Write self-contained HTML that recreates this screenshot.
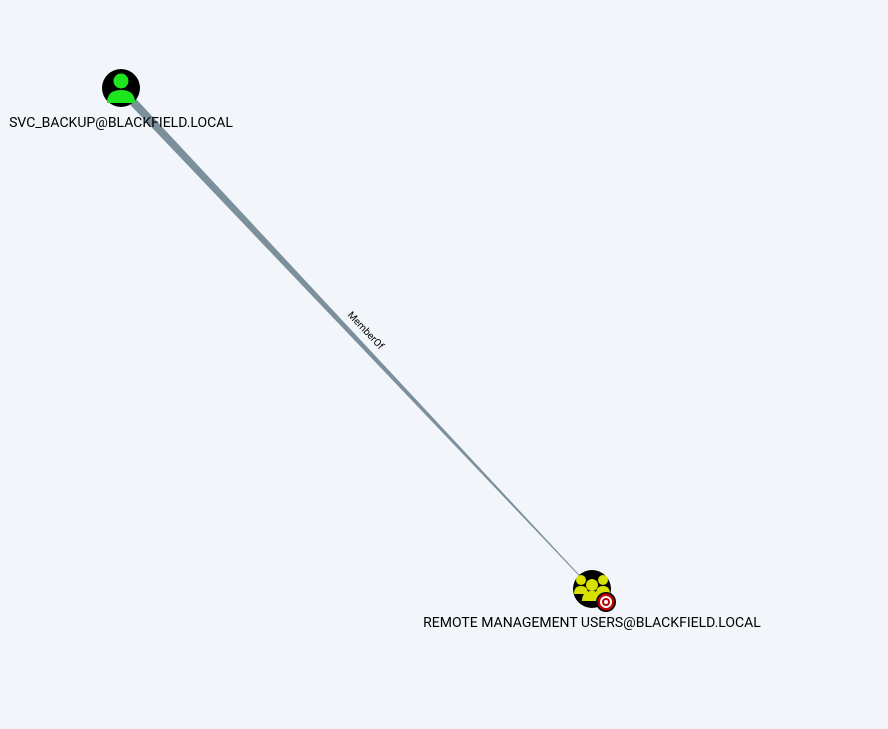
<!DOCTYPE html>
<html><head><meta charset="utf-8"><style>
html,body{margin:0;padding:0;background:#f2f5fa;width:888px;height:729px;overflow:hidden}
</style></head><body>
<svg width="888" height="729" xmlns="http://www.w3.org/2000/svg" style="position:absolute;left:0;top:0">
<rect width="888" height="729" fill="#f2f5fa"/>
<polygon points="118,92 124,86 592.3,588.8 591.7,589.2" fill="#7b8f9c"/>
<text x="0" y="0" transform="translate(362,334) rotate(46.7)" font-family="Roboto,'Liberation Sans',sans-serif" font-size="10" fill="#000" text-anchor="middle" dy="-2">MemberOf</text>
<circle cx="121" cy="88" r="19" fill="#000"/>
<circle cx="121" cy="81" r="7.5" fill="#1ee61e"/>
<path d="M107,103 Q107,90 121,90 Q135,90 135,103 Z" fill="#1ee61e"/>
<circle cx="592" cy="589" r="19" fill="#000"/>
<circle cx="592" cy="585" r="6" fill="#d8e000"/>
<circle cx="581" cy="580" r="5" fill="#d8e000"/>
<circle cx="603" cy="580" r="5" fill="#d8e000"/>
<path d="M574,594 Q574,586 581,586 Q588,586 588,594 Z" fill="#d8e000"/>
<path d="M596,594 Q596,586 603,586 Q610,586 610,594 Z" fill="#d8e000"/>
<path d="M582,601 Q582,591 592,591 Q602,591 602,601 Z" fill="#d8e000"/>
<circle cx="606" cy="602" r="10" fill="#000"/>
<circle cx="606" cy="602" r="8.5" fill="#b00"/>
<circle cx="606" cy="602" r="6" fill="#fff"/>
<circle cx="606" cy="602" r="4" fill="#b00"/>
<circle cx="606" cy="602" r="2" fill="#fff"/>
<text x="121" y="127" font-family="Roboto,'Liberation Sans',sans-serif" font-size="14" fill="#000" text-anchor="middle">SVC_BACKUP@BLACKFIELD.LOCAL</text>
<text x="592" y="627" font-family="Roboto,'Liberation Sans',sans-serif" font-size="14" fill="#000" text-anchor="middle">REMOTE MANAGEMENT USERS@BLACKFIELD.LOCAL</text>
</svg>
</body></html>
